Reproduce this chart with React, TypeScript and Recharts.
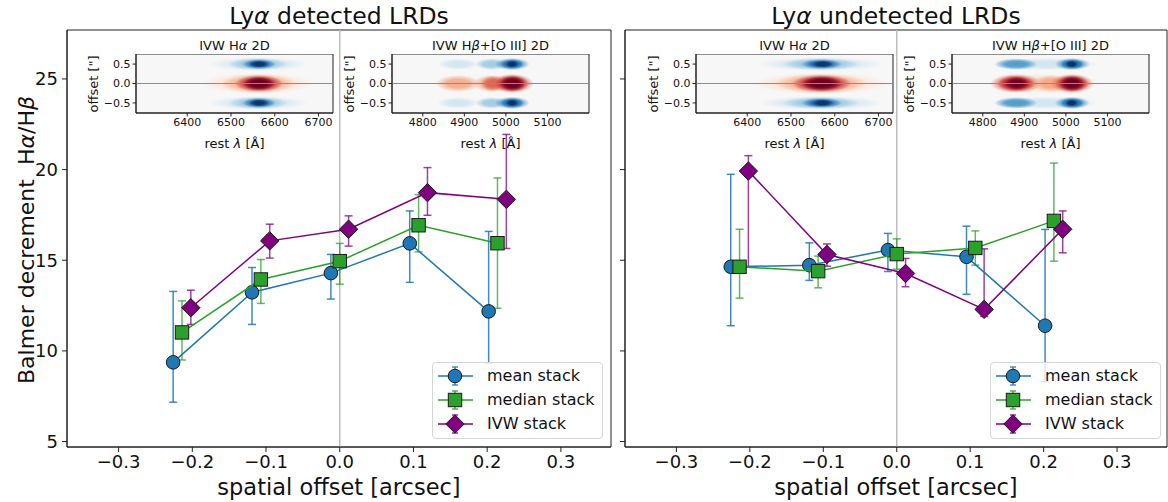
import React from 'react';
import { ComposedChart, Scatter, XAxis, YAxis, ErrorBar, ReferenceLine, ReferenceArea, Legend } from 'recharts';

const FONT = '"DejaVu Sans", "Noto Sans", sans-serif';

// ---------- main panel data ----------
const xMean = [-0.226, -0.119, -0.012, 0.095, 0.202];
const xMedian = [-0.214, -0.107, 0.0, 0.107, 0.214];
const xIVW = [-0.202, -0.095, 0.012, 0.119, 0.226];

// Lya detected
const detMean = [9.37, 13.23, 14.29, 15.93, 12.18];
const detMeanLo = [7.17, 11.46, 12.86, 13.78, 9.33];
const detMeanHi = [13.28, 14.6, 15.32, 17.72, 16.59];
const detMedian = [11.02, 13.94, 14.95, 16.93, 15.94];
const detMedianLo = [9.5, 12.62, 13.68, 15.46, 12.35];
const detMedianHi = [12.76, 15.04, 15.93, 18.62, 19.54];
const detIVW = [12.38, 16.07, 16.71, 18.73, 18.36];
const detIVWLo = [11.46, 15.12, 15.78, 17.48, 15.65];
const detIVWHi = [13.35, 16.99, 17.45, 20.11, 21.94];

// Lya undetected
const undMean = [14.64, 14.73, 15.56, 15.19, 11.39];
const undMeanLo = [11.39, 13.89, 14.38, 13.12, 8.3];
const undMeanHi = [19.74, 15.96, 16.48, 16.88, 16.7];
const undMedian = [14.64, 14.4, 15.34, 15.68, 17.17];
const undMedianLo = [12.91, 13.48, 14.51, 14.73, 14.95];
const undMedianHi = [16.71, 15.23, 16.18, 16.62, 20.36];
const undIVW = [19.92, 15.32, 14.27, 12.29, 16.71];
const undIVWLo = [14.64, 14.67, 13.54, 11.9, 15.41];
const undIVWHi = [20.77, 15.9, 15.1, 15.63, 17.72];

const xTicks = [-0.3, -0.2, -0.1, 0.0, 0.1, 0.2, 0.3];
const yTicks = [5, 10, 15, 20, 25];
const X_DOMAIN: [number, number] = [-0.37, 0.368];
const Y_DOMAIN: [number, number] = [4.7, 27.7];

// ---------- inset data: [lambda centre, half width, offset centre, half height, colour, alpha] ----------
type Blob = [number, number, number, number, string, number];

const haDetBlobs: Blob[] = [
  [6562, 130, 0, 0.27, '#fddbc7', 0.9],
  [6562, 85, 0, 0.25, '#f4a582', 0.95],
  [6564, 55, 0, 0.22, '#b2182b', 1],
  [6564, 36, 0, 0.18, '#67001f', 1],
  [6562, 115, 0.5, 0.18, '#d1e5f0', 0.9],
  [6562, 68, 0.5, 0.16, '#92c5de', 0.95],
  [6564, 38, 0.5, 0.13, '#2166ac', 1],
  [6564, 22, 0.5, 0.09, '#053061', 0.9],
  [6562, 115, -0.5, 0.18, '#d1e5f0', 0.9],
  [6562, 68, -0.5, 0.16, '#92c5de', 0.95],
  [6564, 38, -0.5, 0.13, '#2166ac', 1],
  [6564, 22, -0.5, 0.09, '#053061', 0.9],
];

const haUndBlobs: Blob[] = [
  [6568, 155, 0, 0.28, '#fddbc7', 0.95],
  [6568, 105, 0, 0.26, '#f4a582', 0.95],
  [6570, 68, 0, 0.23, '#b2182b', 1],
  [6570, 46, 0, 0.19, '#67001f', 1],
  [6568, 145, 0.5, 0.18, '#d1e5f0', 0.95],
  [6568, 88, 0.5, 0.16, '#92c5de', 0.95],
  [6570, 46, 0.5, 0.13, '#2166ac', 1],
  [6572, 24, 0.5, 0.09, '#053061', 0.9],
  [6568, 145, -0.5, 0.18, '#d1e5f0', 0.95],
  [6568, 88, -0.5, 0.16, '#92c5de', 0.95],
  [6570, 46, -0.5, 0.13, '#2166ac', 1],
  [6572, 24, -0.5, 0.09, '#053061', 0.9],
];

const hbDetBlobs: Blob[] = [
  [4885, 55, 0, 0.22, '#f4a582', 0.9],
  [4966, 45, 0, 0.23, '#f4a582', 0.95],
  [4968, 28, 0, 0.2, '#d6604d', 0.9],
  [5015, 52, 0, 0.25, '#d6604d', 1],
  [5015, 40, 0, 0.22, '#b2182b', 1],
  [5016, 30, 0, 0.19, '#67001f', 1],
  [4885, 50, 0.5, 0.15, '#d1e5f0', 0.95],
  [4966, 40, 0.5, 0.15, '#92c5de', 0.85],
  [5015, 42, 0.5, 0.16, '#4393c3', 1],
  [5015, 28, 0.5, 0.13, '#2166ac', 1],
  [5015, 15, 0.5, 0.09, '#053061', 1],
  [4885, 50, -0.5, 0.15, '#d1e5f0', 0.95],
  [4966, 40, -0.5, 0.15, '#92c5de', 0.85],
  [5015, 42, -0.5, 0.16, '#4393c3', 1],
  [5015, 28, -0.5, 0.13, '#2166ac', 1],
  [5015, 15, -0.5, 0.09, '#053061', 1],
];

const hbUndBlobs: Blob[] = [
  [4950, 135, 0, 0.25, '#fddbc7', 0.95],
  [4880, 62, 0, 0.25, '#d6604d', 1],
  [4880, 45, 0, 0.21, '#b2182b', 1],
  [4882, 30, 0, 0.17, '#67001f', 0.95],
  [4965, 45, 0, 0.22, '#f4a582', 0.95],
  [5015, 52, 0, 0.25, '#d6604d', 1],
  [5015, 40, 0, 0.22, '#b2182b', 1],
  [5015, 30, 0, 0.19, '#67001f', 1],
  [4950, 130, 0.5, 0.16, '#d1e5f0', 0.95],
  [4880, 52, 0.5, 0.15, '#4393c3', 0.9],
  [5015, 42, 0.5, 0.16, '#4393c3', 1],
  [5015, 28, 0.5, 0.13, '#2166ac', 1],
  [5014, 15, 0.5, 0.09, '#053061', 1],
  [4950, 130, -0.5, 0.16, '#d1e5f0', 0.95],
  [4880, 52, -0.5, 0.15, '#4393c3', 0.9],
  [5015, 42, -0.5, 0.16, '#4393c3', 1],
  [5015, 28, -0.5, 0.13, '#2166ac', 1],
  [5014, 15, -0.5, 0.09, '#053061', 1],
];

const haTicks = [6400, 6500, 6600, 6700];
const hbTicks = [4800, 4900, 5000, 5100];
const offTicks = [-0.5, 0, 0.5];
const HA_DOMAIN: [number, number] = [6283, 6733];
const HB_DOMAIN: [number, number] = [4726, 5200];
const OFF_DOMAIN: [number, number] = [-0.76, 0.76];

const gradColors = ['#67001f', '#8a0b25', '#b2182b', '#d6604d', '#f4a582', '#fddbc7', '#053061', '#2166ac', '#4393c3', '#92c5de', '#d1e5f0'];

const C_MEAN = '#1f77b4';
const C_MED = '#2ca02c';
const C_IVW = '#800080';

const fmt1 = (v: number) => (v < 0 ? '\u2212' : '') + Math.abs(v).toFixed(1);

function rows(xs: number[], ys: number[], lo: number[], hi: number[]) {
  return xs.map((x, i) => ({ x, y: ys[i], err: [ys[i] - lo[i], hi[i] - ys[i]] }));
}

const circleShape = (p: any) => <circle cx={p.cx} cy={p.cy} r={6.8} fill={C_MEAN} stroke="#1a1a1a" strokeWidth={1} />;
const squareShape = (p: any) => <rect x={p.cx - 6.7} y={p.cy - 6.7} width={13.4} height={13.4} fill={C_MED} stroke="#1a1a1a" strokeWidth={1} />;
const diamondShape = (p: any) => (
  <polygon points={`${p.cx},${p.cy - 9.2} ${p.cx + 9.2},${p.cy} ${p.cx},${p.cy + 9.2} ${p.cx - 9.2},${p.cy}`} fill={C_IVW} stroke="#1a1a1a" strokeWidth={1} />
);
const noShape = () => <g />;

const legendItems = [
  { name: 'mean stack', color: C_MEAN, kind: 'circle' },
  { name: 'median stack', color: C_MED, kind: 'square' },
  { name: 'IVW stack', color: C_IVW, kind: 'diamond' },
];

const LegendBox = () => (
  <div style={{ position: 'relative', width: 171, height: 77, boxSizing: 'border-box', border: '1px solid #d6d6d6', borderRadius: 4, background: 'rgba(255,255,255,0.8)', fontFamily: FONT, fontSize: 16, color: '#111' }}>
    {legendItems.map((s, i) => (
      <div key={s.name} style={{ position: 'absolute', left: 0, top: 1 + i * 24, height: 24, display: 'flex', alignItems: 'center', whiteSpace: 'nowrap' }}>
        <svg width={54} height={24} style={{ display: 'block' }}>
          <line x1={5} x2={40} y1={12} y2={12} stroke={s.color} strokeWidth={1.5} />
          <line x1={22} x2={22} y1={3} y2={21} stroke={s.color} strokeWidth={1.5} strokeOpacity={0.8} />
          <line x1={19} x2={25} y1={3} y2={3} stroke={s.color} strokeWidth={1.5} strokeOpacity={0.8} />
          <line x1={19} x2={25} y1={21} y2={21} stroke={s.color} strokeWidth={1.5} strokeOpacity={0.8} />
          {s.kind === 'circle' && <circle cx={22} cy={12} r={6.8} fill={s.color} stroke="#1a1a1a" strokeWidth={1} />}
          {s.kind === 'square' && <rect x={15.3} y={5.3} width={13.4} height={13.4} fill={s.color} stroke="#1a1a1a" strokeWidth={1} />}
          {s.kind === 'diamond' && <polygon points="22,2.8 31.2,12 22,21.2 12.8,12" fill={s.color} stroke="#1a1a1a" strokeWidth={1} />}
        </svg>
        <span style={{ lineHeight: '24px' }}>{s.name}</span>
      </div>
    ))}
  </div>
);

type PanelProps = {
  left: number;
  width: number;
  yAxisWidth: number;
  rightMargin: number;
  showYLabels: boolean;
  mean: any[];
  median: any[];
  ivw: any[];
  legendLeft: number;
};

const Panel = (p: PanelProps) => (
  <div style={{ position: 'absolute', left: p.left, top: 0 }}>
    <ComposedChart width={p.width} height={502} margin={{ top: 30, right: p.rightMargin, bottom: 0, left: 0 }}>
      <XAxis type="number" dataKey="x" domain={X_DOMAIN} allowDataOverflow ticks={xTicks} tickFormatter={fmt1} height={55}
        stroke="#222" tickSize={5} tickMargin={3} tick={{ fill: '#111', fontSize: 18, fontFamily: FONT }} />
      <YAxis type="number" dataKey="y" domain={Y_DOMAIN} allowDataOverflow ticks={yTicks} width={p.yAxisWidth}
        tickFormatter={(v: number) => (p.showYLabels ? String(v) : '')}
        stroke="#222" tickSize={5} tickMargin={4} tick={{ fill: '#111', fontSize: 18, fontFamily: FONT }} />
      <ReferenceLine x={0} stroke="#bdbdbd" strokeWidth={1.5} />
      <Scatter name="mean stack" data={p.mean} fill={C_MEAN} line={{ stroke: C_MEAN, strokeWidth: 1.5 }} shape={circleShape} isAnimationActive={false}>
        <ErrorBar dataKey="err" direction="y" width={4} stroke={C_MEAN} strokeWidth={1.5} strokeOpacity={0.85} isAnimationActive={false} />
      </Scatter>
      <Scatter name="median stack" data={p.median} fill={C_MED} line={{ stroke: C_MED, strokeWidth: 1.5 }} shape={squareShape} isAnimationActive={false}>
        <ErrorBar dataKey="err" direction="y" width={4} stroke={C_MED} strokeWidth={1.5} strokeOpacity={0.75} isAnimationActive={false} />
      </Scatter>
      <Scatter name="IVW stack" data={p.ivw} fill={C_IVW} line={{ stroke: C_IVW, strokeWidth: 1.5 }} shape={diamondShape} isAnimationActive={false}>
        <ErrorBar dataKey="err" direction="y" width={4} stroke={C_IVW} strokeWidth={1.5} strokeOpacity={0.75} isAnimationActive={false} />
      </Scatter>
      <ReferenceArea x1={X_DOMAIN[0]} x2={X_DOMAIN[1]} y1={Y_DOMAIN[0]} y2={Y_DOMAIN[1]} fill="none" stroke="#222" strokeWidth={1} ifOverflow="visible" />
      <Legend layout="horizontal" verticalAlign="middle" align="center" content={() => <LegendBox />}
        wrapperStyle={{ position: 'absolute', left: p.legendLeft, top: 362, width: 171, height: 77 }} />
    </ComposedChart>
  </div>
);

type InsetProps = { left: number; top: number; domain: [number, number]; ticks: number[]; blobs: Blob[]; title: string };

const INSET_W = 197;
const INSET_H = 59;

const Inset = (p: InsetProps) => {
  const anchor = p.ticks.map((t) => ({ lam: t, off: 0 }));
  return (
    <>
      <div style={{ position: 'absolute', left: p.left - 60, top: p.top }}>
        <ComposedChart width={60 + INSET_W + 10} height={INSET_H + 30} data={anchor} margin={{ top: 0, right: 10, bottom: 0, left: 0 }}>
          <XAxis type="number" dataKey="lam" domain={p.domain} allowDataOverflow ticks={p.ticks} height={30} stroke="#222" tickSize={3.5} tickMargin={2}
            tick={{ fill: '#111', fontSize: 11, fontFamily: FONT }} />
          <YAxis type="number" dataKey="off" domain={OFF_DOMAIN} allowDataOverflow ticks={offTicks} tickFormatter={fmt1} width={60} stroke="#222" tickSize={3.5} tickMargin={2}
            tick={{ fill: '#111', fontSize: 11, fontFamily: FONT }} />
          <ReferenceArea x1={p.domain[0]} x2={p.domain[1]} y1={OFF_DOMAIN[0]} y2={OFF_DOMAIN[1]} fill="#f7f7f7" fillOpacity={1} stroke="none" ifOverflow="hidden" />
          {p.blobs.map((b, i) => (
            <ReferenceArea key={i} x1={b[0] - b[1]} x2={b[0] + b[1]} y1={b[2] - b[3]} y2={b[2] + b[3]}
              fill={`url(#rg${b[4].slice(1)})`} fillOpacity={b[5]} stroke="none" ifOverflow="hidden" />
          ))}
          <ReferenceLine y={0} stroke="#8c8c8c" strokeWidth={1} />
          <Scatter data={anchor} dataKey="off" shape={noShape} isAnimationActive={false} legendType="none" />
          <ReferenceArea x1={p.domain[0]} x2={p.domain[1]} y1={OFF_DOMAIN[0]} y2={OFF_DOMAIN[1]} fill="none" stroke="#222" strokeWidth={1} ifOverflow="visible" />
        </ComposedChart>
      </div>
      <div style={{ position: 'absolute', left: p.left + INSET_W / 2, top: p.top - 9, transform: 'translate(-50%,-50%)', fontSize: 13, fontFamily: FONT, color: '#111', whiteSpace: 'nowrap' }}
        dangerouslySetInnerHTML={{ __html: p.title }} />
      <div style={{ position: 'absolute', left: p.left + INSET_W / 2, top: p.top + 89, transform: 'translate(-50%,-50%)', fontSize: 13, fontFamily: FONT, color: '#111', whiteSpace: 'nowrap' }}>
        rest <i>λ</i> [Å]
      </div>
      <div style={{ position: 'absolute', left: p.left - 43, top: p.top + INSET_H / 2, transform: 'translate(-50%,-50%) rotate(-90deg)', fontSize: 13, fontFamily: FONT, color: '#111', whiteSpace: 'nowrap' }}>
        offset ["]
      </div>
    </>
  );
};

const textStyle: React.CSSProperties = { position: 'absolute', transform: 'translate(-50%,-50%)', fontFamily: FONT, color: '#111', whiteSpace: 'nowrap' };

export default function App() {
  return (
    <div style={{ position: 'absolute', left: 0, top: 0, width: 1168, height: 502, background: '#fff', overflow: 'hidden' }}>
      <svg width={0} height={0} style={{ position: 'absolute' }}>
        <defs>
          {gradColors.map((c) => (
            <radialGradient key={c} id={`rg${c.slice(1)}`} cx="50%" cy="50%" r="50%">
              <stop offset="0%" stopColor={c} stopOpacity={1} />
              <stop offset="50%" stopColor={c} stopOpacity={0.92} />
              <stop offset="100%" stopColor={c} stopOpacity={0} />
            </radialGradient>
          ))}
        </defs>
      </svg>

      <Panel left={0} width={620} yAxisWidth={67} rightMargin={9} showYLabels
        mean={rows(xMean, detMean, detMeanLo, detMeanHi)}
        median={rows(xMedian, detMedian, detMedianLo, detMedianHi)}
        ivw={rows(xIVW, detIVW, detIVWLo, detIVWHi)} legendLeft={432} />
      <Panel left={620} width={548} yAxisWidth={5} rightMargin={1} showYLabels={false}
        mean={rows(xMean, undMean, undMeanLo, undMeanHi)}
        median={rows(xMedian, undMedian, undMedianLo, undMedianHi)}
        ivw={rows(xIVW, undIVW, undIVWLo, undIVWHi)} legendLeft={370} />

      <Inset left={136} top={54} domain={HA_DOMAIN} ticks={haTicks} blobs={haDetBlobs} title="IVW H<i>α</i> 2D" />
      <Inset left={392} top={54} domain={HB_DOMAIN} ticks={hbTicks} blobs={hbDetBlobs} title="IVW H<i>β</i>+[O III] 2D" />
      <Inset left={696} top={54} domain={HA_DOMAIN} ticks={haTicks} blobs={haUndBlobs} title="IVW H<i>α</i> 2D" />
      <Inset left={952} top={54} domain={HB_DOMAIN} ticks={hbTicks} blobs={hbUndBlobs} title="IVW H<i>β</i>+[O III] 2D" />

      <div style={{ ...textStyle, left: 339, top: 16, fontSize: 23.5 }}>Ly<i>α</i> detected LRDs</div>
      <div style={{ ...textStyle, left: 896, top: 16, fontSize: 23.5 }}>Ly<i>α</i> undetected LRDs</div>
      <div style={{ ...textStyle, left: 339, top: 487, fontSize: 22.5 }}>spatial offset [arcsec]</div>
      <div style={{ ...textStyle, left: 896, top: 487, fontSize: 22.5 }}>spatial offset [arcsec]</div>
      <div style={{ ...textStyle, left: 26, top: 240, fontSize: 22, transform: 'translate(-50%,-50%) rotate(-90deg)' }}>
        Balmer decrement&nbsp; H<i>α</i>/H<i>β</i>
      </div>
    </div>
  );
}
